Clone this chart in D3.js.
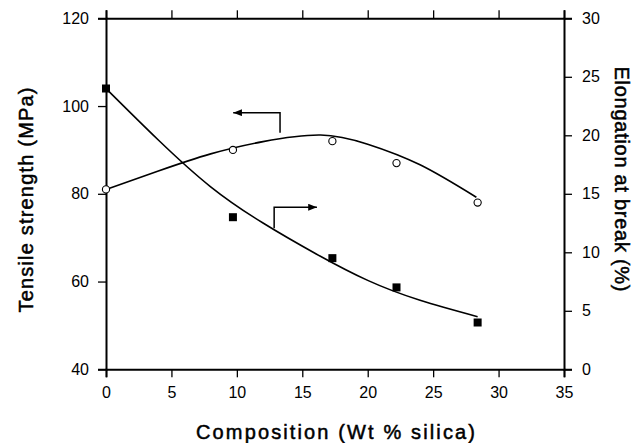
<!DOCTYPE html>
<html>
<head>
<meta charset="utf-8">
<script src="https://cdn.jsdelivr.net/npm/d3@7"></script>
<style>
  html, body { margin: 0; padding: 0; background: #fff; }
  svg { display: block; }
  text { font-family: "Liberation Sans", Arial, Helvetica, sans-serif; fill: #000; }
</style>
</head>
<body>
<svg id="chart" width="643" height="443"></svg>
<script>
// Measured samples: silica content (wt %)
const silica = [0, 9.7, 17.3, 22.2, 28.4];
// Tensile strength (MPa), left axis
const tensile = [81, 90, 92, 87, 78];
// Elongation at break (%), right axis
const elongation = [24, 13, 9.5, 7, 4];

// Fitted trend curves drawn through the data
const tensileFitX = [0, 4, 8, 12, 16.4, 20, 24, 28.3];
const tensileFitY = [81, 85.2, 89.1, 91.9, 93.4, 91.3, 86.6, 79.2];
const elongFitX = [0, 4, 8, 12, 16, 20, 24, 28.4];
const elongFitY = [24, 19.6, 15.6, 12.5, 9.9, 7.6, 5.9, 4.5];

// Tick labels
const xTicks = [0, 5, 10, 15, 20, 25, 30, 35];
const leftTicks = [40, 60, 80, 100, 120];
const rightTicks = [0, 5, 10, 15, 20, 25, 30];

const svg = d3.select("#chart");
const L = 106, R = 564, T = 18.3, B = 369.3;

const x = d3.scaleLinear().domain([0, 35]).range([L, R]);
const yL = d3.scaleLinear().domain([40, 120]).range([B, T]);
const yR = d3.scaleLinear().domain([0, 30]).range([B, T]);

const tickLen = 8;

// Axes
const gB = svg.append("g").attr("transform", `translate(0,${B})`)
  .call(d3.axisBottom(x).tickValues(xTicks).tickSize(tickLen).tickPadding(9).tickFormat(d3.format("d")));
const gT = svg.append("g").attr("transform", `translate(0,${T})`)
  .call(d3.axisTop(x).tickValues(xTicks).tickSize(tickLen).tickFormat(""));
const gL = svg.append("g").attr("transform", `translate(${L},0)`)
  .call(d3.axisLeft(yL).tickValues(leftTicks).tickSize(tickLen).tickPadding(9).tickFormat(d3.format("d")));
const gR = svg.append("g").attr("transform", `translate(${R},0)`)
  .call(d3.axisRight(yR).tickValues(rightTicks).tickSize(tickLen).tickPadding(10).tickFormat(d3.format("d")));

[gB, gT, gL, gR].forEach(g => {
  g.select(".domain").attr("stroke", "#000").attr("stroke-width", 2);
  g.selectAll(".tick line").attr("stroke", "#000").attr("stroke-width", 1.3);
  g.selectAll(".tick text").attr("font-size", 16).attr("font-family", "Liberation Sans, Arial, sans-serif").attr("fill", "#000");
});

// Fitted curves
const tensileLine = d3.line().x((d, i) => x(tensileFitX[i])).y(d => yL(d)).curve(d3.curveNatural);
const elongLine = d3.line().x((d, i) => x(elongFitX[i])).y(d => yR(d)).curve(d3.curveNatural);

svg.append("path").attr("d", tensileLine(tensileFitY))
  .attr("fill", "none").attr("stroke", "#000").attr("stroke-width", 1.6);
svg.append("path").attr("d", elongLine(elongFitY))
  .attr("fill", "none").attr("stroke", "#000").attr("stroke-width", 1.6);

// Data markers
svg.append("g").selectAll("circle").data(tensile).join("circle")
  .attr("cx", (d, i) => x(silica[i])).attr("cy", d => yL(d)).attr("r", 3.6)
  .attr("fill", "#fff").attr("stroke", "#000").attr("stroke-width", 1.1);

const sq = 8;
svg.append("g").selectAll("rect").data(elongation).join("rect")
  .attr("x", (d, i) => x(silica[i]) - sq / 2).attr("y", d => yR(d) - sq / 2)
  .attr("width", sq).attr("height", sq).attr("fill", "#000");

// Arrows pointing each curve to its axis
const defs = svg.append("defs");
defs.append("marker").attr("id", "head").attr("viewBox", "0 0 10 8")
  .attr("refX", 10).attr("refY", 4).attr("markerWidth", 10).attr("markerHeight", 7)
  .attr("markerUnits", "userSpaceOnUse").attr("orient", "auto")
  .append("path").attr("d", "M0,0 L10,4 L0,8 Z").attr("fill", "#000");

// to the left axis (tensile strength)
svg.append("path")
  .attr("d", `M${x(13.3)},${yL(93.9)} L${x(13.3)},${yL(98.5)} L${x(9.72)},${yL(98.5)}`)
  .attr("fill", "none").attr("stroke", "#000").attr("stroke-width", 1.5)
  .attr("marker-end", "url(#head)");
// to the right axis (elongation)
svg.append("path")
  .attr("d", `M${x(12.85)},${yR(12.05)} L${x(12.85)},${yR(13.85)} L${x(16.12)},${yR(13.85)}`)
  .attr("fill", "none").attr("stroke", "#000").attr("stroke-width", 1.5)
  .attr("marker-end", "url(#head)");

// Axis titles
const titleStyle = sel => sel.attr("font-size", 20).attr("stroke", "#000").attr("stroke-width", 0.5)
  .attr("lengthAdjust", "spacing").attr("text-anchor", "middle");

svg.append("text").attr("x", 335.5).attr("y", 439)
  .call(titleStyle).attr("textLength", 279)
  .text("Composition (Wt % silica)");

svg.append("text").attr("transform", "translate(33,200) rotate(-90)")
  .call(titleStyle).attr("textLength", 225)
  .text("Tensile strength (MPa)");

svg.append("text").attr("transform", "translate(615,179) rotate(90)")
  .call(titleStyle).attr("textLength", 225)
  .text("Elongation at break (%)");
</script>
</body>
</html>
